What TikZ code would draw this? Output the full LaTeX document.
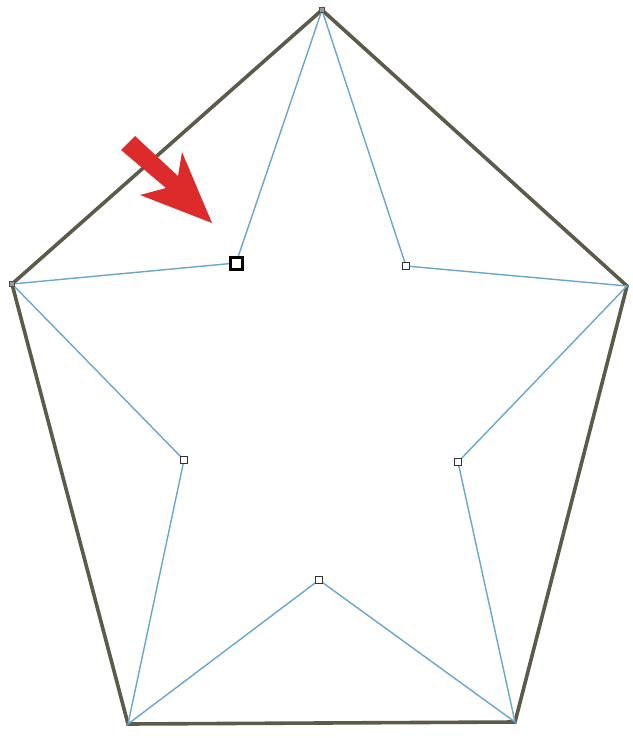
\documentclass[tikz,border=0pt]{standalone}
\definecolor{outline}{HTML}{5C5A48}
\definecolor{starline}{HTML}{6AA6CC}
\definecolor{arrowred}{HTML}{DD2A2A}
\begin{document}
\begin{tikzpicture}[x=1pt,y=-1pt,
  pent/.style={draw=outline,line width=3.6pt,line join=miter},
  starl/.style={draw=starline,line width=1.4pt},
  handle/.style={draw=black!80,fill=white,line width=1.6pt,minimum size=7pt,inner sep=0pt,rectangle},
  selhandle/.style={draw=black,fill=white,line width=3pt,minimum size=12pt,inner sep=0pt,rectangle},
  vtx/.style={inner sep=0pt,minimum size=0pt}]
\useasboundingbox (0,0) rectangle (632,738);
% outer vertices
\coordinate (T) at (322,10);
\coordinate (L) at (12,284);
\coordinate (R) at (627,286);
\coordinate (BL) at (128,724);
\coordinate (BR) at (515,722);
% pentagon
\draw[pent] (T) -- (R) -- (BR) -- (BL) -- (L) -- cycle;
% inner points
\coordinate (IUL) at (236,263);
\coordinate (IUR) at (406,266);
\coordinate (IL) at (184,460);
\coordinate (IR) at (458,462);
\coordinate (IB) at (319,580);
% star lines
\draw[starl] (T) -- (IUL) -- (L) -- (IL) -- (BL) -- (IB) -- (BR) -- (IR) -- (R) -- (IUR) -- cycle;
% handles
\node[selhandle] (hUL) at (IUL) {};
\node[handle] (hUR) at (IUR) {};
\node[handle] (hL) at (IL) {};
\node[handle] (hR) at (IR) {};
\node[handle] (hB) at (IB) {};
\node[draw=black!70,fill=black!40,minimum size=5pt,inner sep=0pt] (hT) at (T) {};
\node[draw=black!70,fill=black!40,minimum size=5pt,inner sep=0pt] (hL0) at (L) {};
% red arrow
\fill[arrowred] (128,143) -- (135,136) -- (178,176) -- (182,152) -- (212,223) -- (140,195) -- (166,188) -- (121,150) -- cycle;
\end{tikzpicture}
\end{document}
